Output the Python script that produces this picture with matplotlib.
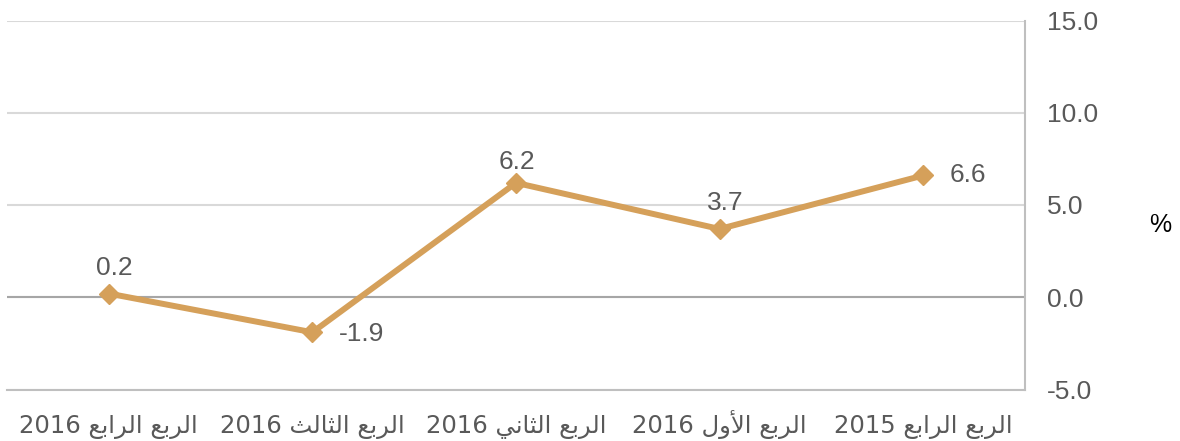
import matplotlib
matplotlib.use("Agg")
import matplotlib.pyplot as plt

# البيانات
quarters = ["الربع الرابع 2015", "الربع الأول 2016", "الربع الثاني 2016",
            "الربع الثالث 2016", "الربع الرابع 2016"]
growth = [6.6, 3.7, 6.2, -1.9, 0.2]
yticks = [-5.0, 0.0, 5.0, 10.0, 15.0]

# matplotlib لا يشكّل الحروف العربية، فنحوّلها يدويا إلى أشكال العرض
FORMS = {  # منفرد، نهائي، ابتدائي، وسطي
    'ا': ('\uFE8D', '\uFE8E', None, None),
    'أ': ('\uFE83', '\uFE84', None, None),
    'ر': ('\uFEAD', '\uFEAE', None, None),
    'و': ('\uFEED', '\uFEEE', None, None),
    'ل': ('\uFEDD', '\uFEDE', '\uFEDF', '\uFEE0'),
    'ب': ('\uFE8F', '\uFE90', '\uFE91', '\uFE92'),
    'ع': ('\uFEC9', '\uFECA', '\uFECB', '\uFECC'),
    'ث': ('\uFE99', '\uFE9A', '\uFE9B', '\uFE9C'),
    'ن': ('\uFEE5', '\uFEE6', '\uFEE7', '\uFEE8'),
    'ي': ('\uFEF1', '\uFEF2', '\uFEF3', '\uFEF4'),
}
LAM_ALEF = {'ا': ('\uFEFB', '\uFEFC'), 'أ': ('\uFEF7', '\uFEF8')}


def shape_word(w):
    letters = []
    i = 0
    while i < len(w):
        if w[i] == 'ل' and i + 1 < len(w) and w[i + 1] in LAM_ALEF:
            letters.append(('LA', w[i + 1]))
            i += 2
        else:
            letters.append(('C', w[i]))
            i += 1
    out = []
    for k, (kind, ch) in enumerate(letters):
        prev_joins = k > 0 and letters[k - 1][0] == 'C' and FORMS[letters[k - 1][1]][2] is not None
        if kind == 'LA':
            out.append(LAM_ALEF[ch][1 if prev_joins else 0])
            continue
        f = FORMS[ch]
        next_ok = f[2] is not None and k + 1 < len(letters)
        if prev_joins and next_ok:
            out.append(f[3])
        elif prev_joins:
            out.append(f[1])
        elif next_ok:
            out.append(f[2])
        else:
            out.append(f[0])
    return ''.join(reversed(out))


def rtl(text):
    tokens = text.split(' ')
    vis = [t if t.isdigit() else shape_word(t) for t in tokens]
    return ' '.join(reversed(vis))


color = '#D5A05A'
grey = '#595959'

fig = plt.figure(figsize=(11.8, 4.41), dpi=100)
ax = fig.add_axes([7 / 1180, 1 - 389.5 / 441, 1018 / 1180, 369 / 441])

xs = list(range(len(quarters)))
ax.plot(xs, growth, color=color, lw=4.3, marker='D', ms=10, zorder=3)

# موضع كل تسمية بالنسبة للنقطة
offsets = {0: (19, 0, 'left', 'center'), 2: (1, 10, 'center', 'baseline'),
           3: (19, -1, 'left', 'center')}
for x, v in zip(xs, growth):
    dx, dy, ha, va = offsets.get(x, (4, 13.5, 'center', 'baseline'))
    ax.annotate(f"{v:.1f}", (x, v), xytext=(dx, dy), textcoords='offset points',
                ha=ha, va=va, fontsize=19, color=grey, family='Liberation Sans')

ax.set_xlim(4.5, -0.5)
ax.set_ylim(-5, 15)
ax.set_xticks(xs)
ax.set_xticklabels([rtl(q) for q in quarters], family='DejaVu Sans', fontsize=17.5,
                   color=grey, va='baseline')
ax.yaxis.tick_right()
ax.set_yticks(yticks)
ax.set_yticklabels([f"{t:.1f}" for t in yticks], family='Liberation Sans', fontsize=19,
                   color=grey, ha='left')
ax.tick_params(axis='both', length=0)
ax.tick_params(axis='x', pad=31)
ax.tick_params(axis='y', pad=16)

ax.grid(axis='y', color='#D9D9D9', lw=1.5)
ax.axhline(0, color='#A6A6A6', lw=1.5, zorder=2)
for s in ['left', 'top']:
    ax.spines[s].set_visible(False)
for s in ['right', 'bottom']:
    ax.spines[s].set_color('#BFBFBF')
    ax.spines[s].set_linewidth(1.5)

fig.text(1160 / 1180, 1 - 225 / 441, '%', fontsize=18, color='black',
         family='Liberation Sans', ha='center', va='center')

fig.savefig('out.png', dpi=100)
